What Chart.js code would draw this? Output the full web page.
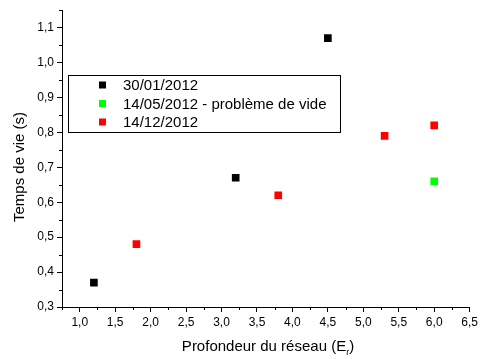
<!DOCTYPE html>
<html>
<head>
<meta charset="utf-8">
<script src="https://cdn.jsdelivr.net/npm/chart.js@4/dist/chart.umd.min.js"></script>
<style>
  html, body { margin: 0; padding: 0; background: #fff; }
  #wrap { position: relative; width: 481px; height: 359px; }
</style>
</head>
<body>
<div id="wrap"><canvas id="scatterChart" width="481" height="359"></canvas></div>
<script>
'use strict';

// series labels / colours
var seriesLabels = ['30/01/2012', '14/05/2012 - problème de vide', '14/12/2012'];
var seriesColors = ['#000000', '#00ff00', '#ff0000'];

// profondeur du réseau (Er) / temps de vie (s)
var janX = [1.2, 3.2, 4.5];
var janY = [0.37, 0.67, 1.07];
var mayX = [6.0];
var mayY = [0.66];
var decX = [1.8, 3.8, 5.3, 6.0];
var decY = [0.48, 0.62, 0.79, 0.82];

var xTitle = 'Profondeur du réseau (E';
var xTitleSub = 'r';
var yTitle = 'Temps de vie (s)';

function toPoints(xs, ys) {
  return xs.map(function (x, i) { return { x: x, y: ys[i] }; });
}

var FONT = '"Liberation Sans", Arial, sans-serif';

function commaLabel(v) {
  return Number(v).toFixed(1).replace('.', ',');
}

// minor ticks, legend box and axis titles
var extrasPlugin = {
  id: 'extras',
  afterDraw: function (chart) {
    var ctx = chart.ctx;
    var xs = chart.scales.x, ys = chart.scales.y;
    var area = chart.chartArea;
    ctx.save();
    ctx.strokeStyle = '#000';
    ctx.lineWidth = 1;
    ctx.beginPath();
    var v, p;
    for (v = 0.35; v <= 1.151; v += 0.1) {
      p = Math.round(ys.getPixelForValue(v)) + 0.5;
      ctx.moveTo(area.left - 3, p);
      ctx.lineTo(area.left, p);
    }
    for (v = 0.75; v <= 6.26; v += 0.5) {
      p = Math.round(xs.getPixelForValue(v)) + 0.5;
      ctx.moveTo(p, area.bottom);
      ctx.lineTo(p, area.bottom + 3);
    }
    ctx.stroke();

    // legend
    var lx = 68, ly = 75, lw = 272, lh = 57;
    ctx.fillStyle = '#fff';
    ctx.fillRect(lx, ly, lw, lh);
    ctx.strokeRect(lx + 0.5, ly + 0.5, lw, lh);
    ctx.font = '15px ' + FONT;
    ctx.textBaseline = 'middle';
    ctx.textAlign = 'left';
    chart.data.datasets.forEach(function (ds, i) {
      var cy = ly + 10 + i * 18.5;
      ctx.fillStyle = ds.backgroundColor;
      ctx.fillRect(99, cy - 3.5, 7, 7);
      ctx.fillStyle = '#000';
      ctx.fillText(ds.label, 123, cy + 1);
    });

    // x title with subscript
    ctx.font = '15px ' + FONT;
    ctx.textBaseline = 'alphabetic';
    var w1 = ctx.measureText(xTitle).width;
    ctx.font = '9px ' + FONT;
    var w2 = ctx.measureText(xTitleSub).width;
    ctx.font = '15px ' + FONT;
    var w3 = ctx.measureText(')').width;
    var start = 268 - (w1 + w2 + w3) / 2;
    ctx.fillStyle = '#000';
    ctx.fillText(xTitle, start, 351);
    ctx.font = '9px ' + FONT;
    ctx.fillText(xTitleSub, start + w1, 355);
    ctx.font = '15px ' + FONT;
    ctx.fillText(')', start + w1 + w2, 351);

    // y title
    ctx.translate(20, 167);
    ctx.rotate(-Math.PI / 2);
    ctx.textAlign = 'center';
    ctx.textBaseline = 'middle';
    ctx.fillText(yTitle, 0, 0);
    ctx.restore();
  }
};

var scatterData = {
  datasets: [
    { label: seriesLabels[0], data: toPoints(janX, janY) },
    { label: seriesLabels[1], data: toPoints(mayX, mayY) },
    { label: seriesLabels[2], data: toPoints(decX, decY) }
  ].map(function (ds, i) {
    ds.backgroundColor = seriesColors[i];
    ds.borderColor = seriesColors[i];
    ds.borderWidth = 0;
    ds.pointStyle = 'rect';
    ds.pointRadius = 5.4;
    ds.pointHoverRadius = 5.4;
    return ds;
  })
};

var scatterOptions = {
  responsive: false,
  animation: false,
  events: [],
  layout: { padding: { top: 5, right: 8, left: 0, bottom: 0 } },
  plugins: {
    legend: { display: false },
    tooltip: { enabled: false }
  },
  scales: {
    x: {
      type: 'linear',
      min: 0.75,
      max: 6.5,
      border: { color: '#000', width: 1 },
      grid: { drawOnChartArea: false, color: '#000', tickLength: 5 },
      ticks: {
        stepSize: 0.5,
        includeBounds: false,
        color: '#000',
        padding: 3,
        maxRotation: 0,
        font: { family: FONT, size: 12 },
        callback: commaLabel
      },
      afterFit: function (scale) { scale.height = 52; }
    },
    y: {
      type: 'linear',
      min: 0.3,
      max: 1.15,
      border: { color: '#000', width: 1 },
      grid: { drawOnChartArea: false, color: '#000', tickLength: 5 },
      ticks: {
        stepSize: 0.1,
        includeBounds: false,
        color: '#000',
        padding: 3,
        font: { family: FONT, size: 12 },
        callback: commaLabel
      },
      afterFit: function (scale) { scale.width = 62; }
    }
  }
};

var scatterChart = new Chart(document.getElementById('scatterChart').getContext('2d'), {
  type: 'scatter',
  data: scatterData,
  options: scatterOptions,
  plugins: [extrasPlugin]
});
</script>
</body>
</html>
